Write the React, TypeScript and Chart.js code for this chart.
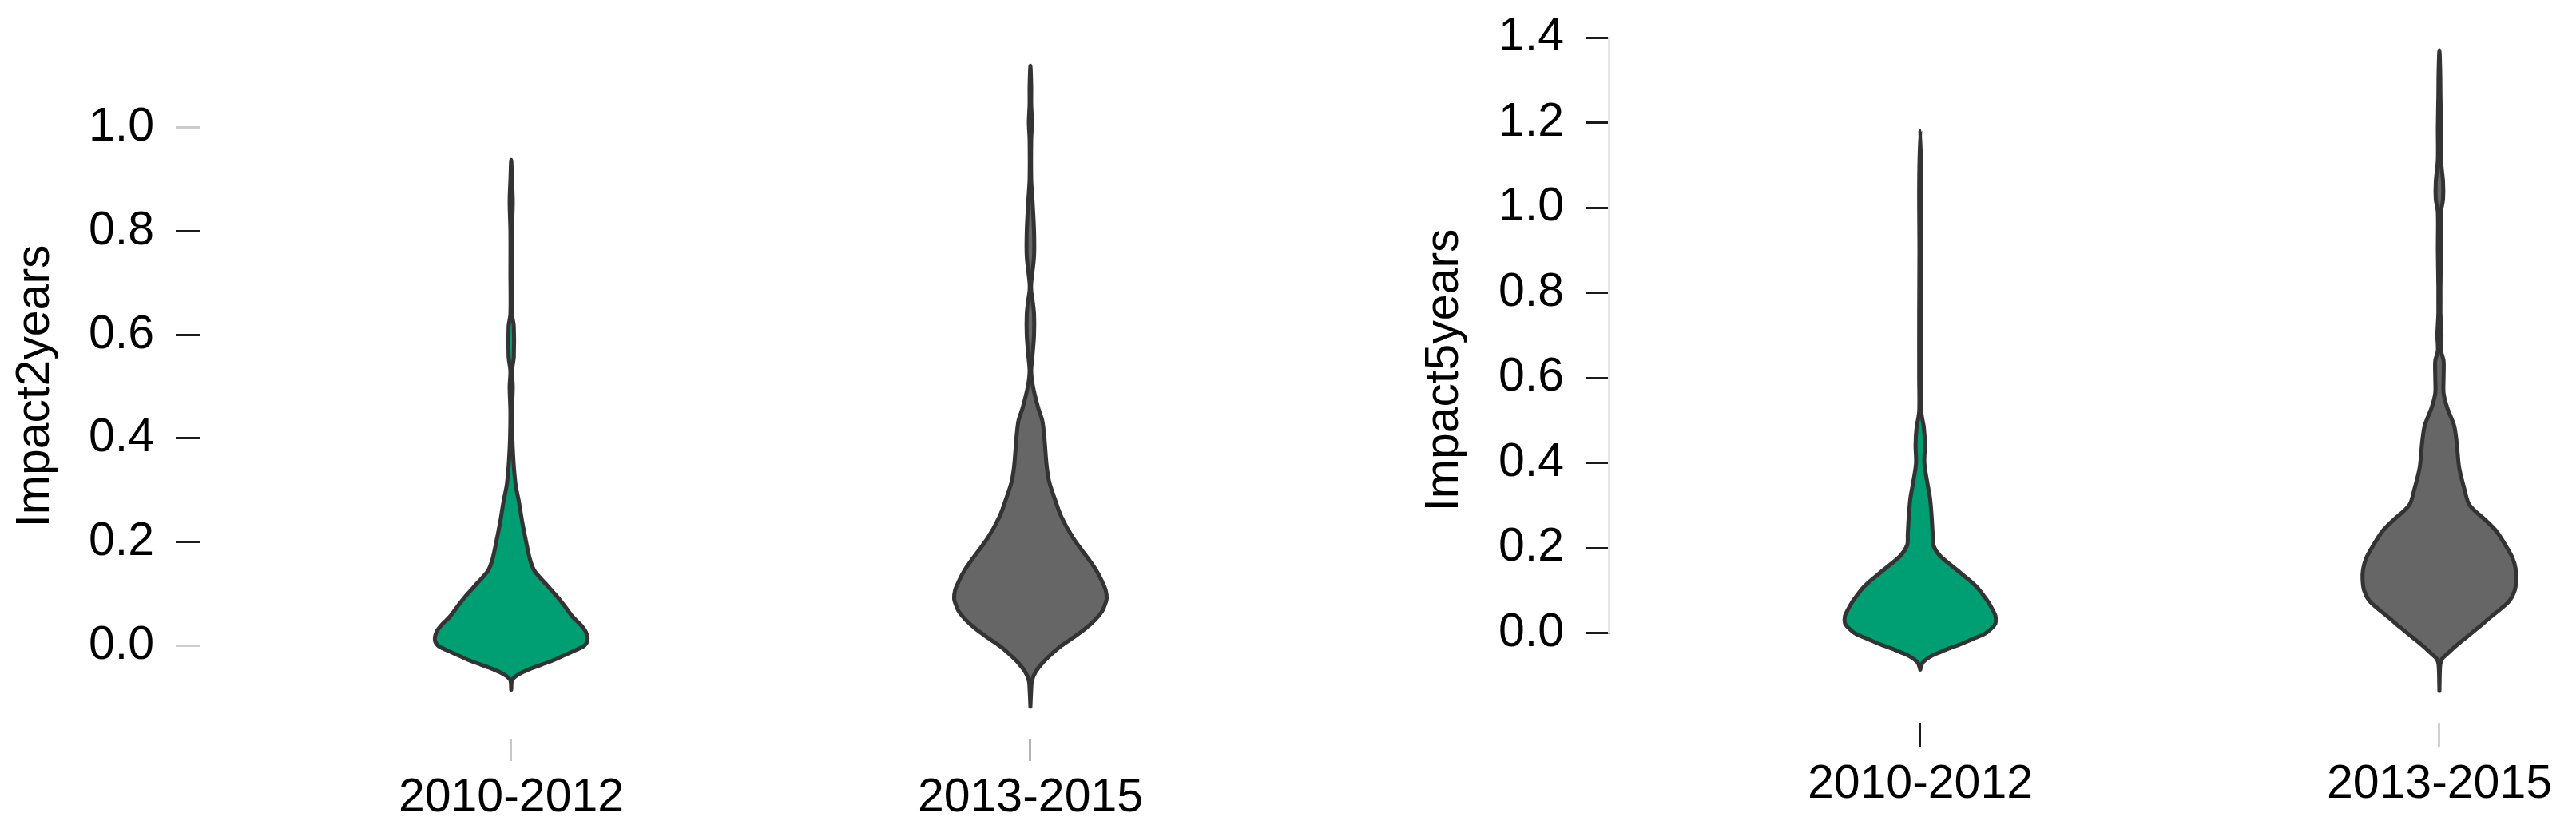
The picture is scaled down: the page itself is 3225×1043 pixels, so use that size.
import React, { useEffect, useRef } from 'react';
import { Chart, registerables } from 'chart.js';

Chart.register(...registerables);

// ---------- data ----------
const categories = ['2010-2012', '2013-2015'];

// Panel A: Impact2years
const impact2Ticks = [0, 0.2, 0.4, 0.6, 0.8, 1.0];
const impact2GreenLevels = [-0.085, -0.066, -0.055, -0.046, -0.037, -0.028, -0.018, -0.008, 0.0, 0.011, 0.026, 0.04, 0.056, 0.075, 0.093, 0.12, 0.144, 0.167, 0.204, 0.24, 0.277, 0.314, 0.38, 0.45, 0.5, 0.53, 0.558, 0.617, 0.64, 0.72, 0.8, 0.857, 0.9, 0.938];
const impact2GreenHalfWidths = [0, 0.002, 0.015, 0.034, 0.058, 0.082, 0.104, 0.126, 0.141, 0.147, 0.144, 0.134, 0.118, 0.104, 0.09, 0.066, 0.045, 0.036, 0.028, 0.021, 0.015, 0.008, 0.003, 0.0015, 0.003, 0.0015, 0.005, 0.005, 0.0015, 0.0015, 0.0015, 0.003, 0.0015, 0];
const impact2GrayLevels = [-0.118, -0.085, -0.068, -0.051, -0.035, -0.018, 0.0, 0.015, 0.032, 0.049, 0.066, 0.08, 0.091, 0.107, 0.124, 0.145, 0.167, 0.208, 0.25, 0.283, 0.317, 0.35, 0.4, 0.434, 0.459, 0.5, 0.53, 0.56, 0.6, 0.64, 0.668, 0.685, 0.7, 0.752, 0.8, 0.86, 0.9, 0.977, 1.01, 1.045, 1.08, 1.12];
const impact2GrayHalfWidths = [0, 0.0015, 0.003, 0.01, 0.022, 0.039, 0.06, 0.082, 0.105, 0.124, 0.138, 0.144, 0.147, 0.145, 0.138, 0.127, 0.112, 0.082, 0.059, 0.047, 0.036, 0.031, 0.027, 0.023, 0.015, 0.005, 0.0015, 0.004, 0.007, 0.007, 0.004, 0.0015, 0.0015, 0.007, 0.007, 0.004, 0.0015, 0.0015, 0.003, 0.0015, 0.0015, 0];

// Panel B: Impact5years
const impact5Ticks = [0, 0.2, 0.4, 0.6, 0.8, 1.0, 1.2, 1.4];
const impact5GreenLevels = [-0.086, -0.069, -0.053, -0.04, -0.027, -0.014, -0.002, 0.012, 0.023, 0.04, 0.056, 0.073, 0.09, 0.107, 0.128, 0.149, 0.182, 0.207, 0.232, 0.274, 0.316, 0.358, 0.4, 0.442, 0.483, 0.52, 0.6, 0.75, 0.9, 1.05, 1.182];
const impact5GreenHalfWidths = [0, 0.005, 0.023, 0.048, 0.076, 0.101, 0.124, 0.138, 0.145, 0.145, 0.139, 0.131, 0.121, 0.11, 0.091, 0.07, 0.038, 0.025, 0.024, 0.022, 0.019, 0.013, 0.008, 0.009, 0.007, 0.002, 0.002, 0.002, 0.0015, 0.002, 0];
const impact5GrayLevels = [-0.136, -0.075, -0.061, -0.049, -0.03, -0.011, 0.014, 0.039, 0.057, 0.076, 0.1, 0.126, 0.15, 0.176, 0.205, 0.239, 0.264, 0.301, 0.339, 0.389, 0.451, 0.489, 0.53, 0.564, 0.6, 0.64, 0.664, 0.7, 0.75, 0.78, 0.814, 0.9, 0.989, 1.02, 1.06, 1.113, 1.19, 1.263, 1.32, 1.37];
const impact5GrayHalfWidths = [0, 0.0015, 0.005, 0.015, 0.032, 0.051, 0.076, 0.1, 0.118, 0.135, 0.145, 0.148, 0.147, 0.141, 0.128, 0.11, 0.09, 0.058, 0.048, 0.038, 0.033, 0.028, 0.015, 0.008, 0.008, 0.008, 0.003, 0.004, 0.002, 0.002, 0.002, 0.003, 0.003, 0.007, 0.007, 0.003, 0.003, 0.002, 0.0015, 0];

// ---------- styles ----------
const GREEN = '#009E73';
const GRAY = '#666666';
const OUTLINE = '#333333';
const FONT = "'Liberation Sans', Arial, sans-serif";

function violinPoints(center: number, levels: number[], half: number[]) {
  const right = levels.map((y, i) => ({ x: center + half[i], y }));
  const left = levels
    .slice(0, -1)
    .map((y, i) => ({ x: center - half[i], y }))
    .reverse();
  return [...right, ...left];
}

function violinDataset(center: number, levels: number[], half: number[], color: string) {
  return {
    data: violinPoints(center, levels, half),
    backgroundColor: color,
    borderColor: OUTLINE,
    borderWidth: 5,
    borderJoinStyle: 'round',
    borderCapStyle: 'round',
    fill: 'shape',
    tension: 0.3,
    pointRadius: 0,
    pointHoverRadius: 0,
    pointHitRadius: 0,
  };
}

type PanelSpec = {
  title: string;
  titlePad: number;
  yTicks: number[];
  yMin: number;
  yMax: number;
  yTickColors: string[];
  yWidth: number;
  yLabelPad: number;
  xMin: number;
  xMax: number;
  xHeight: number;
  xTickLen: number;
  xLabelPad: number;
  xTickColors: string[];
  topPad: number;
  datasets: any[];
  axisLine: boolean;
};

const axisSegmentPlugin = {
  id: 'axisSegment',
  beforeDatasetsDraw(chart: any, _args: any, opts: any) {
    if (!opts || !opts.enabled) return;
    const y = chart.scales.y;
    const { ctx, chartArea } = chart;
    const ticks: number[] = opts.ticks;
    ctx.save();
    ctx.strokeStyle = '#e6e6e6';
    ctx.lineWidth = 3;
    ctx.beginPath();
    ctx.moveTo(chartArea.left - 1.5, y.getPixelForValue(ticks[0]) + 1);
    ctx.lineTo(chartArea.left - 1.5, y.getPixelForValue(ticks[ticks.length - 1]) - 1);
    ctx.stroke();
    ctx.restore();
  },
};

function buildConfig(p: PanelSpec): any {
  return {
    type: 'line',
    data: { datasets: p.datasets },
    plugins: [axisSegmentPlugin],
    options: {
      responsive: false,
      animation: false,
      events: [],
      layout: { padding: { top: p.topPad, left: 0, right: 0, bottom: 0 }, autoPadding: false },
      plugins: {
        legend: { display: false },
        tooltip: { enabled: false },
        axisSegment: { enabled: p.axisLine, ticks: p.yTicks },
      },
      scales: {
        x: {
          type: 'linear',
          min: p.xMin,
          max: p.xMax,
          afterBuildTicks: (s: any) => {
            s.ticks = categories.map((_, i) => ({ value: i + 1 }));
          },
          afterFit: (s: any) => {
            s.height = p.xHeight;
            s.paddingLeft = 0;
            s.paddingRight = 0;
          },
          ticks: {
            callback: (v: number) => categories[Math.round(v) - 1],
            padding: p.xLabelPad,
            color: '#000000',
            maxRotation: 0,
            autoSkip: false,
            font: { family: FONT, size: 59 },
          },
          grid: {
            drawOnChartArea: false,
            drawTicks: true,
            tickLength: p.xTickLen,
            lineWidth: 3,
            color: (c: any) => p.xTickColors[c.index] || '#000',
          },
          border: { display: false },
        },
        y: {
          type: 'linear',
          min: p.yMin,
          max: p.yMax,
          afterBuildTicks: (s: any) => {
            s.ticks = p.yTicks.map((v) => ({ value: v }));
          },
          afterFit: (s: any) => {
            s.width = p.yWidth;
            s.paddingTop = 0;
            s.paddingBottom = 0;
          },
          ticks: {
            callback: (v: number) => Number(v).toFixed(1),
            padding: p.yLabelPad,
            color: '#000000',
            font: { family: FONT, size: 59 },
          },
          grid: {
            drawOnChartArea: false,
            drawTicks: true,
            tickLength: 30,
            lineWidth: 3,
            color: (c: any) => p.yTickColors[c.index] || '#000',
          },
          border: { display: false },
          title: {
            display: true,
            text: p.title,
            color: '#000000',
            font: { family: FONT, size: 59 },
            padding: { top: p.titlePad, bottom: 0 },
          },
        },
      },
    },
  };
}

const panelA: PanelSpec = {
  title: 'Impact2years',
  titlePad: 9,
  yTicks: impact2Ticks,
  yMin: -0.18,
  yMax: 1.182,
  yTickColors: ['#cccccc', '#1a1a1a', '#1a1a1a', '#1a1a1a', '#1a1a1a', '#cccccc'],
  yWidth: 250,
  yLabelPad: 27,
  xMin: 0.4,
  xMax: 2.6154,
  xHeight: 118,
  xTickLen: 28,
  xLabelPad: 11,
  xTickColors: ['#c8c8c8', '#b4b4b4'],
  topPad: 42,
  axisLine: false,
  datasets: [
    violinDataset(1, impact2GreenLevels, impact2GreenHalfWidths, GREEN),
    violinDataset(2, impact2GrayLevels, impact2GrayHalfWidths, GRAY),
  ],
};

const panelB: PanelSpec = {
  title: 'Impact5years',
  titlePad: 73,
  yTicks: impact5Ticks,
  yMin: -0.211,
  yMax: 1.447,
  yTickColors: impact5Ticks.map(() => '#1a1a1a'),
  yWidth: 316,
  yLabelPad: 28,
  xMin: 0.4031,
  xMax: 2.2631,
  xHeight: 138,
  xTickLen: 30,
  xLabelPad: 12,
  xTickColors: ['#1a1a1a', '#d0d0d0'],
  topPad: 22,
  axisLine: true,
  datasets: [
    violinDataset(1, impact5GreenLevels, impact5GreenHalfWidths, GREEN),
    violinDataset(2, impact5GrayLevels, impact5GrayHalfWidths, GRAY),
  ],
};

export default function App() {
  const leftRef = useRef<HTMLCanvasElement>(null);
  const rightRef = useRef<HTMLCanvasElement>(null);

  useEffect(() => {
    const a = new Chart(leftRef.current as HTMLCanvasElement, buildConfig(panelA));
    const b = new Chart(rightRef.current as HTMLCanvasElement, buildConfig(panelB));
    return () => {
      a.destroy();
      b.destroy();
    };
  }, []);

  return (
    <div style={{ position: 'absolute', left: 0, top: 0, width: 3225, height: 1043, background: '#ffffff', overflow: 'hidden' }}>
      <canvas
        ref={leftRef}
        width={1690}
        height={1043}
        style={{ position: 'absolute', left: 0, top: 0, width: 1690, height: 1043 }}
      />
      <canvas
        ref={rightRef}
        width={1525}
        height={1043}
        style={{ position: 'absolute', left: 1700, top: 0, width: 1525, height: 1043 }}
      />
    </div>
  );
}
